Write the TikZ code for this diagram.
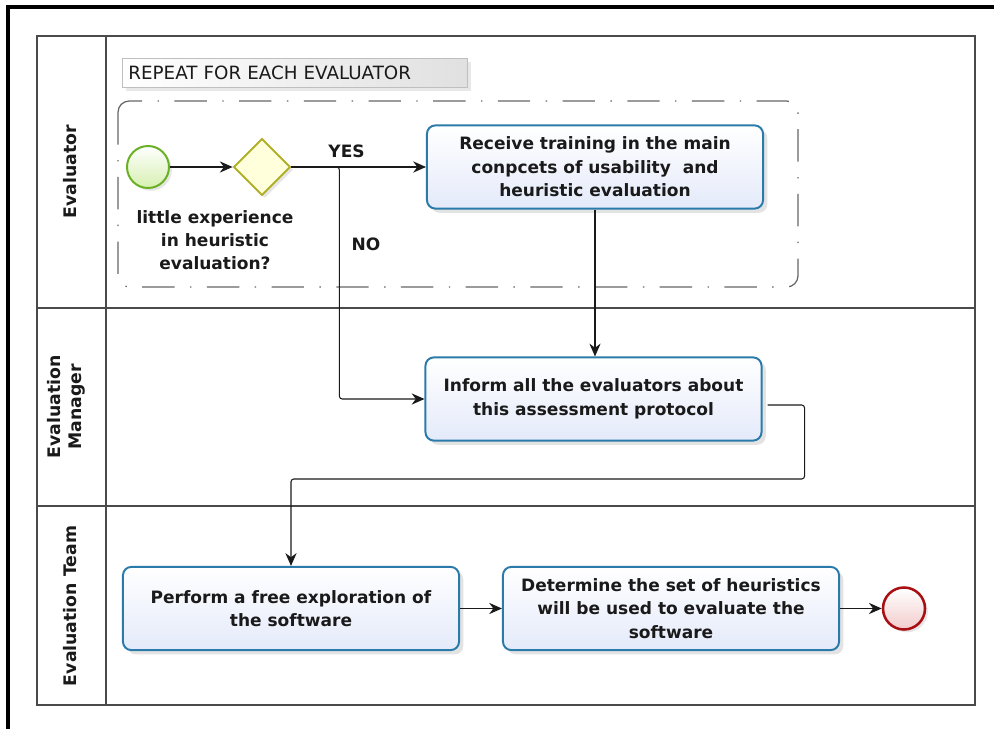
\documentclass[tikz,border=0pt]{standalone}
\usepackage{fontspec}
\setmainfont{DejaVu Sans}
\usetikzlibrary{arrows.meta,positioning,shapes.geometric,shadows}
\definecolor{TaskBlue}{HTML}{2A7BAA}
\definecolor{TaskFill}{HTML}{E4EAFA}
\definecolor{StartGreen}{HTML}{6AB023}
\definecolor{StartFill}{HTML}{D6F0B0}
\definecolor{GateOlive}{HTML}{B0B02A}
\definecolor{GateFill}{HTML}{FFFFDC}
\definecolor{EndRed}{HTML}{A80F12}
\definecolor{EndFill}{HTML}{F2CCCC}
\definecolor{Ink}{HTML}{1A1A1A}
\definecolor{PoolGray}{HTML}{4A4A4A}

\begin{document}
\begin{tikzpicture}[x=0.025cm,y=-0.025cm,
  task/.style={draw=TaskBlue,line width=1.4pt,rounded corners=6pt,top color=white,bottom color=TaskFill,
    minimum width=8.4cm,minimum height=2.08cm,align=center,font=\fontsize{12.1}{16.8}\selectfont\bfseries,
    text=Ink,drop shadow={shadow xshift=3pt,shadow yshift=-3pt,opacity=0.22}},
  startev/.style={circle,draw=StartGreen,line width=1.4pt,top color=white,bottom color=StartFill,minimum size=1.05cm,inner sep=0pt,
    drop shadow={shadow xshift=2pt,shadow yshift=-2pt,opacity=0.2}},
  endev/.style={circle,draw=EndRed,line width=1.8pt,top color=white,bottom color=EndFill,minimum size=1.05cm,inner sep=0pt,
    drop shadow={shadow xshift=2pt,shadow yshift=-2pt,opacity=0.2}},
  gateway/.style={diamond,draw=GateOlive,line width=1.4pt,fill=GateFill,minimum size=1.42cm,inner sep=0pt,
    drop shadow={shadow xshift=2pt,shadow yshift=-2pt,opacity=0.2}},
  lanelabel/.style={rotate=90,align=center,font=\fontsize{12.3}{15}\selectfont\bfseries,text=Ink},
  lbl/.style={align=center,font=\fontsize{12.1}{16.4}\selectfont\bfseries,text=Ink},
  loopbox/.style={draw=black!25,left color=white,right color=black!12,minimum width=8.62cm,minimum height=0.72cm,
    text width=8.3cm,align=left,font=\fontsize{13}{14}\selectfont,text=Ink,
    drop shadow={shadow xshift=3pt,shadow yshift=-3pt,opacity=0.18}},
  pool/.style={draw=PoolGray,line width=0.9pt},
  loopframe/.style={draw=black!60,line width=0.9pt,rounded corners=8pt,dash pattern=on 23pt off 11pt on 1pt off 11pt},
  flow/.style={-{Stealth[length=3.2mm,width=2.8mm]},draw=Ink,line width=0.75pt,rounded corners=2pt}
]
\useasboundingbox (0,0) rectangle (994,729);
% outer frame
\draw[line width=2.2pt] (8,729) -- (8,7) -- (994,7);
% pool and lanes
\draw[pool] (37,36) rectangle (975,705);
\draw[pool] (106,36) -- (106,705);
\draw[pool] (37,308) -- (975,308);
\draw[pool] (37,506) -- (975,506);
\node[lanelabel] (laneEval) at (70,172) {Evaluator};
\node[lanelabel] (laneMgr) at (66,407) {Evaluation\\Manager};
\node[lanelabel] (laneTeam) at (70,606) {Evaluation Team};
% loop
\node[loopbox] (repeat) at (294.5,72.5) {REPEAT FOR EACH EVALUATOR};
\draw[loopframe] (118,101) rectangle (798,287);
% flow objects
\node[startev] (start) at (148,167) {};
\node[gateway] (gw) at (262,167) {};
\node[lbl] (gwText) at (215,240) {little experience\\in heuristic\\evaluation?};
\node[task] (training) at (595,167) {Receive training in the main\\conpcets of usability\ \ and\\heuristic evaluation};
\node[task] (inform) at (593.5,399) {Inform all the evaluators about\\this assessment protocol};
\node[task] (explore) at (291,608.5) {Perform a free exploration of\\the software};
\node[task] (heur) at (671,608.5) {Determine the set of heuristics\\will be used to evaluate the\\software};
\node[endev] (finish) at (904,608.5) {};
% connectors
\draw[flow] (start) -- (gw);
\draw[flow] (gw.east) -- (training.west) node[lbl,pos=0.41,above=3pt] (yes) {YES};
\draw[flow] (gw.east) -- ++(48,0) |- (inform.west);
\node[lbl] (no) at (366,244) {NO};
\draw[flow] (training.south) -- (training.south |- inform.north);
\draw[flow] (inform.east) ++(5,6) -- ++(37,0) -- ++(0,74) -| (explore.north);
\draw[flow] (explore) -- (heur);
\draw[flow] (heur) -- (finish);
\end{tikzpicture}
\end{document}
